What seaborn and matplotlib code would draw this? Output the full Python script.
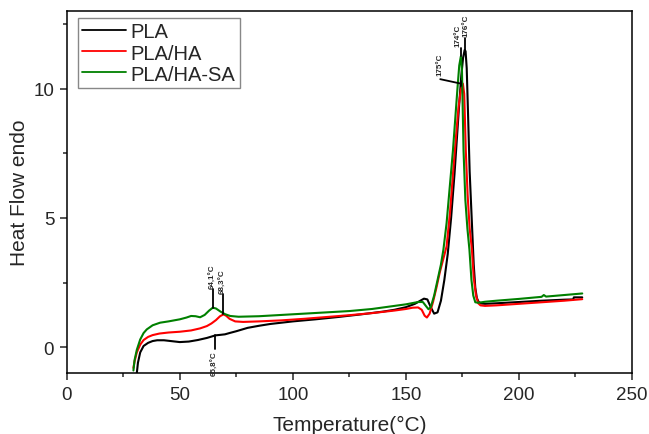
import numpy as np
import pandas as pd
import matplotlib
matplotlib.use("Agg")
import matplotlib.pyplot as plt
import seaborn as sns

# DSC heating curves: temperature (°C) and heat flow (endo up)
pla_t = [31, 31.5, 32.5, 34, 36, 38, 40, 43, 46, 50, 54, 58, 62, 65.8, 68, 70, 72, 75,
         80, 85, 90, 95, 100, 110, 120, 130, 140, 145, 150, 154, 156, 158, 159.5, 161,
         162.5, 164, 165.5, 167, 168.5, 170, 171.5, 172.5, 173.5, 174.5, 175.3, 176,
         176.4, 176.9, 177.5, 178.2, 179.3, 180, 180.7, 181.4, 182.2, 183.5, 185, 190,
         200, 210, 220, 224, 224.3, 226, 228]
pla_hf = [-1.0, -0.6, -0.2, 0.05, 0.17, 0.24, 0.27, 0.27, 0.24, 0.2, 0.22, 0.28, 0.36,
          0.46, 0.48, 0.5, 0.55, 0.62, 0.75, 0.83, 0.9, 0.95, 1.0, 1.08, 1.17, 1.27,
          1.38, 1.45, 1.55, 1.68, 1.78, 1.88, 1.85, 1.55, 1.3, 1.35, 1.8, 2.6, 3.6, 5.0,
          6.7, 8.0, 9.3, 10.5, 11.2, 11.5, 11.45, 10.8, 9.0, 6.8, 4.6, 3.2, 2.3, 1.9,
          1.75, 1.69, 1.68, 1.7, 1.75, 1.8, 1.84, 1.85, 1.93, 1.93, 1.93]

ha_t = [29.5, 30, 31, 32.5, 34, 36, 38, 41, 45, 50, 55, 59, 62, 64, 66, 67.8, 69.3, 70.5,
        72, 74.5, 78, 85, 95, 105, 115, 125, 135, 145, 150, 153, 155.4, 157, 158.3,
        159.3, 160.5, 162, 163.5, 165, 166.5, 168, 169.5, 171, 172.3, 173.3, 174.3,
        175.2, 175.8, 176.5, 177.3, 178.2, 179.2, 180, 181, 182, 183, 185, 190, 200,
        210, 220, 228]
ha_hf = [-0.8, -0.55, -0.2, 0.1, 0.28, 0.4, 0.47, 0.53, 0.57, 0.6, 0.65, 0.73, 0.82,
         0.92, 1.05, 1.2, 1.27, 1.22, 1.1, 1.0, 0.98, 1.0, 1.04, 1.1, 1.17, 1.24, 1.32,
         1.42, 1.48, 1.53, 1.54, 1.45, 1.22, 1.15, 1.3, 1.75, 2.3, 2.9, 3.4, 3.9, 5.2,
         6.9, 8.3, 9.3, 9.95, 10.2, 9.8, 7.6, 5.9, 4.6, 3.78, 2.7, 2.0, 1.7, 1.62, 1.6,
         1.62, 1.68, 1.74, 1.8, 1.86]

sa_t = [29.5, 30, 31, 32.5, 34, 35.4, 38, 41.3, 45, 50, 53, 55, 57, 59, 61, 63, 64.6, 66,
        68, 70, 72.3, 76, 85, 95, 105, 115, 125, 135, 145, 150, 155.4, 157.5, 159, 160,
        161, 162.5, 164, 165.5, 166.6, 168, 169.5, 170.8, 171.8, 172.8, 173.6, 174.3,
        174.8, 175.5, 176.3, 177.2, 178.1, 179, 179.8, 180.7, 182, 185, 190, 200, 210,
        211, 212, 220, 228]
sa_hf = [-0.9, -0.5, -0.1, 0.3, 0.55, 0.69, 0.85, 0.95, 1.0, 1.08, 1.15, 1.21, 1.2, 1.16,
         1.25, 1.42, 1.53, 1.5, 1.38, 1.28, 1.21, 1.18, 1.2, 1.25, 1.3, 1.35, 1.4, 1.48,
         1.6, 1.66, 1.75, 1.75, 1.58, 1.47, 1.55, 2.0, 2.6, 3.2, 3.78, 4.8, 6.3, 7.6, 8.8,
         10.0, 10.9, 11.25, 10.7, 7.6, 5.7, 4.6, 3.78, 2.6, 2.0, 1.74, 1.72, 1.76, 1.8,
         1.87, 1.95, 2.02, 1.96, 2.02, 2.08]

samples = ["PLA", "PLA/HA", "PLA/HA-SA"]
colors = ["#000000", "#ff0000", "#008000"]

# Peak labels drawn upward: (text, marker x, curve y, marker top y, text x, text base y)
marks_up = [("64,1°C", 64.6, 1.53, 2.24, 64.7, 2.3),
            ("68,3°C", 69.3, 1.27, 2.05, 69.3, 2.1),
            ("176°C", 176.3, 11.5, 11.97, 176.8, 12.03),
            ("174°C", 174.3, 11.25, 11.58, 173.1, 11.64)]
# Peak label drawn downward: (text, marker x, curve y, marker bottom y, text top y)
mark_down = ("65,8°C", 65.8, 0.47, -0.08, -0.12)
# Peak label on a leader line: (text, peak x, peak y, leader end x, leader end y, text y)
mark_lead = ("175°C", 174.2, 10.2, 165.2, 10.37, 10.55)

frames = []
for name, t, hf in [(samples[0], pla_t, pla_hf), (samples[1], ha_t, ha_hf),
                    (samples[2], sa_t, sa_hf)]:
    frames.append(pd.DataFrame({"Temperature": t, "HeatFlow": hf, "Sample": name}))
df = pd.concat(frames, ignore_index=True)

sns.set_style("ticks")
plt.rcParams["font.family"] = ["Liberation Sans", "DejaVu Sans"]
plt.rcParams["axes.linewidth"] = 1.1

fig = plt.figure(figsize=(6.49, 4.35), dpi=100)
ax = fig.add_axes([0.1028, 0.140, 0.871, 0.832])

sns.lineplot(data=df, x="Temperature", y="HeatFlow", hue="Sample", hue_order=samples,
             palette=colors, estimator=None, sort=False, units="Sample",
             linewidth=1.5, ax=ax, legend=False)

txt_kw = dict(rotation=90, fontsize=5.8, fontweight="bold", ha="center")
for label, x, y0, y1, xt, yt in marks_up:
    ax.plot([x, x], [y0, y1], color="black", lw=1.3)
    ax.text(xt, yt, label, va="bottom", **txt_kw)
label, x, y0, y1, yt = mark_down
ax.plot([x, x], [y0, y1], color="black", lw=1.3)
ax.text(x, yt, label, va="top", **txt_kw)
label, x, y0, xl, yl, yt = mark_lead
ax.plot([x, x], [y0 - 0.1, y0 + 0.1], color="black", lw=1.3)
ax.plot([x, xl], [y0, yl], color="black", lw=1.3)
ax.text(xl, yt, label, va="bottom", **txt_kw)

ax.set_xlim(0, 250)
ax.set_ylim(-1, 13)
ax.set_xticks([0, 50, 100, 150, 200, 250])
ax.set_xticks([25, 75, 125, 175, 225], minor=True)
ax.set_yticks([0, 5, 10])
ax.set_yticks([2.5, 7.5, 12.5], minor=True)
ax.tick_params(which="major", direction="out", length=5, width=1.1, labelsize=13.5, pad=4)
ax.tick_params(which="minor", direction="out", length=3, width=1.1)
for s in ["top", "right", "left", "bottom"]:
    ax.spines[s].set_visible(True)
    ax.spines[s].set_color("black")

ax.set_xlabel("Temperature(°C)", fontsize=15, labelpad=9)
ax.set_ylabel("Heat Flow endo", fontsize=15, labelpad=3)

handles = [plt.Line2D([], [], color=c, lw=1.3) for c in colors]
leg = ax.legend(handles, samples, loc="upper left", bbox_to_anchor=(0.020, 0.981),
                fontsize=14.5, handlelength=2.15, handletextpad=0.25, labelspacing=0.1,
                borderpad=0.22, borderaxespad=0.0, fancybox=False, framealpha=1,
                edgecolor="#888888")
leg.get_frame().set_linewidth(1.0)

fig.savefig("out.png", dpi=100)
